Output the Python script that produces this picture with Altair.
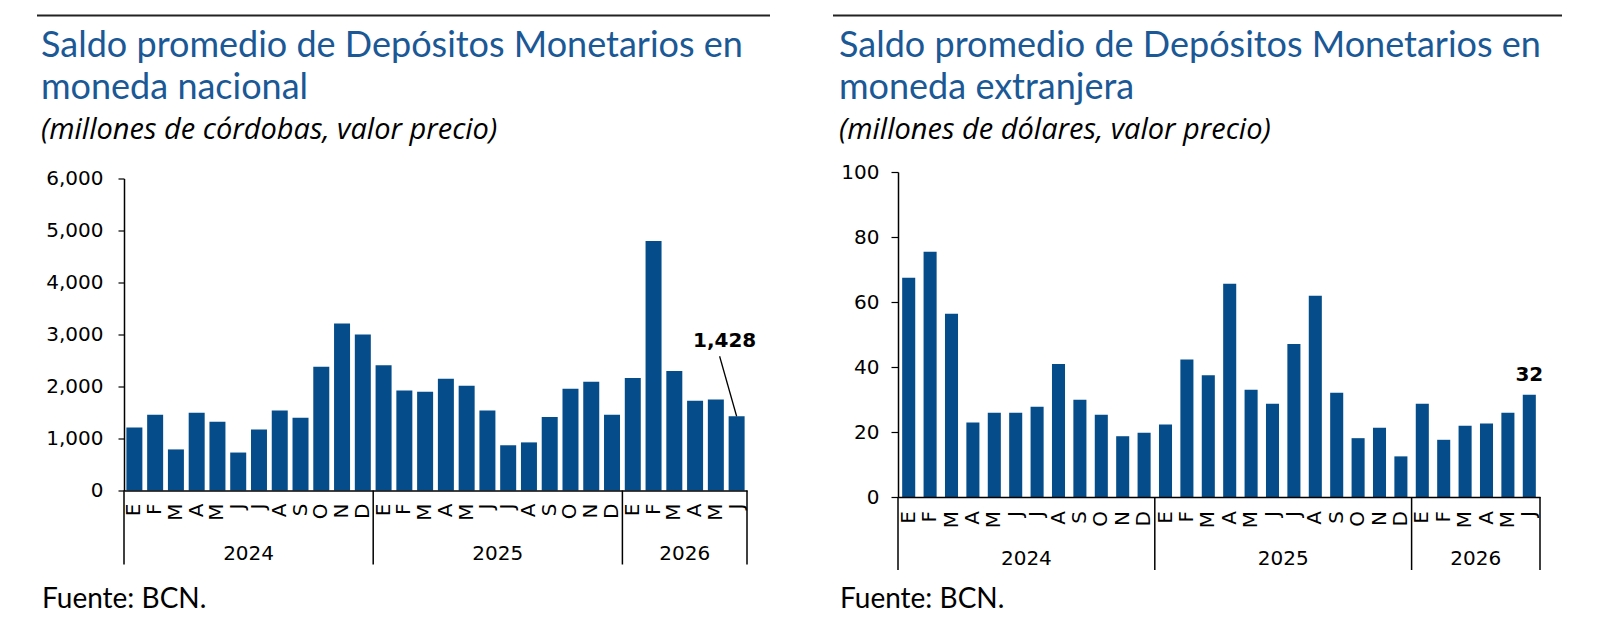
import altair as alt
import pandas as pd

# ---------------- data ----------------
years = ["2024"] * 12 + ["2025"] * 12 + ["2026"] * 6
meses = ["E", "F", "M", "A", "M", "J", "J", "A", "S", "O", "N", "D"] * 2 + ["E", "F", "M", "A", "M", "J"]
num_mes = list(range(1, 13)) * 2 + list(range(1, 7))

nacional = [1210, 1455, 790, 1495, 1320, 730, 1175, 1540, 1400, 2380, 3210, 3000,
            2410, 1925, 1900, 2150, 2015, 1540, 870, 925, 1415, 1955, 2090, 1455,
            2165, 4800, 2300, 1725, 1750, 1428]
extranjera = [67.5, 75.5, 56.4, 22.9, 25.9, 25.9, 27.8, 40.9, 29.9, 25.3, 18.7, 19.8,
              22.3, 42.3, 37.5, 65.6, 33.0, 28.7, 47.1, 61.9, 32.1, 18.1, 21.3, 12.5,
              28.7, 17.6, 21.9, 22.6, 25.9, 31.5]

year_labels = ["2024", "2025", "2026"]
year_counts = [12, 12, 6]

title_nac = ["Saldo promedio de Depósitos Monetarios en", "moneda nacional"]
sub_nac = "(millones de córdobas, valor precio)"
title_ext = ["Saldo promedio de Depósitos Monetarios en", "moneda extranjera"]
sub_ext = "(millones de dólares, valor precio)"
fuente = "Fuente: BCN."
label_nac = "1,428"
label_ext = "32"

y_ticks_nac = [0, 1000, 2000, 3000, 4000, 5000, 6000]
y_ticks_ext = [0, 20, 40, 60, 80, 100]

BAR = "#044C8A"
TITLE = "#1B5896"
TFONT = "Lato"
SFONT = "Open Sans"
AFONT = "DejaVu Sans"

keys = [f"{y}-{m:02d}-{l}" for y, m, l in zip(years, num_mes, meses)]


def panel(values, ann_text, y_ticks, y_max, fmt, width, height, origin_x, origin_y,
          bar_frac, label_padding, tick_size, titles, sub, rule_x0, rule_x1,
          text_x, year_base, sep_len, ann_dx, ann_dy, leader, month_pad):
    df = pd.DataFrame({"key": keys, "v": values, "mes": meses})
    xscale = alt.Scale(type="band", paddingInner=0, paddingOuter=0)
    month_axis = alt.Axis(labels=False, ticks=False, tickSize=0,
                          domainColor="black", domainWidth=1.5, title=None, zindex=1)
    xenc = alt.X("key:O", scale=xscale, sort=keys, axis=month_axis)
    yenc = alt.Y("v:Q", scale=alt.Scale(domain=[0, y_max], nice=False),
                 axis=alt.Axis(values=y_ticks, format=fmt, grid=False,
                               domainColor="black", domainWidth=1.5,
                               tickColor="black", tickSize=tick_size, tickWidth=1.2,
                               labelFont=AFONT, labelFontSize=20, labelColor="black",
                               labelPadding=label_padding, title=None, zindex=1))

    bars = alt.Chart(df).mark_bar(color=BAR, width={"band": bar_frac}).encode(x=xenc, y=yenc)

    # month initials, rotated, under each bar
    mlabels = alt.Chart(df).mark_text(font=AFONT, fontSize=20, color="black", angle=270,
                                      align="right", baseline="middle").encode(
        x=alt.X("key:O", axis=month_axis), y=alt.value(height + month_pad), text="mes:N")

    # year separators and labels
    starts, centers = [], []
    pos = 0
    for c in year_counts:
        starts.append(keys[pos])
        centers.append(keys[pos + c // 2])
        pos += c
    sep_df = pd.DataFrame({"key": starts})
    end_df = pd.DataFrame({"key": [keys[-1]]})
    yr_df = pd.DataFrame({"key": centers, "yr": year_labels})

    seps = alt.Chart(sep_df).mark_rule(color="black", strokeWidth=1.5).encode(
        x=alt.X("key:O", bandPosition=0, axis=month_axis),
        y=alt.value(height), y2=alt.value(height + sep_len))
    end_sep = alt.Chart(end_df).mark_rule(color="black", strokeWidth=1.5).encode(
        x=alt.X("key:O", bandPosition=1, axis=month_axis),
        y=alt.value(height), y2=alt.value(height + sep_len))
    yrs = alt.Chart(yr_df).mark_text(font=AFONT, fontSize=20, color="black",
                                     baseline="alphabetic", align="center").encode(
        x=alt.X("key:O", bandPosition=0, axis=month_axis), y=alt.value(year_base), text="yr:N")

    # annotation of last value
    last_df = pd.DataFrame({"key": [keys[-1]], "v": [values[-1]], "t": [ann_text]})
    ann = alt.Chart(last_df).mark_text(font=AFONT, fontSize=20, fontWeight="bold",
                                       color="black", baseline="alphabetic", align="center",
                                       dx=ann_dx, dy=ann_dy).encode(
        x=alt.X("key:O", axis=month_axis), y="v:Q", text="t:N")
    layers = [bars, mlabels, seps, end_sep, yrs, ann]
    if leader:
        lead = alt.Chart(last_df).mark_rule(color="black", strokeWidth=1.3,
                                            x2Offset=leader[0], y2Offset=leader[1]).encode(
            x=alt.X("key:O", axis=month_axis), x2=alt.X2("key"), y="v:Q", y2=alt.Y2("v"))
        layers.append(lead)

    # decorations: top rule, titles, subtitle, source
    top_rule = alt.Chart(pd.DataFrame({"a": [0]})).mark_rule(color="#222", strokeWidth=2).encode(
        x=alt.value(rule_x0 - origin_x), x2=alt.value(rule_x1 - origin_x),
        y=alt.value(15.5 - origin_y))
    layers.append(top_rule)
    for line, base in zip(titles, [57, 99]):
        layers.append(alt.Chart(pd.DataFrame({"t": [line]})).mark_text(
            font=TFONT, fontSize=36, color=TITLE, align="left", baseline="alphabetic").encode(
            x=alt.value(text_x - origin_x), y=alt.value(base - origin_y), text="t:N"))
    layers.append(alt.Chart(pd.DataFrame({"t": [sub]})).mark_text(
        font=SFONT, fontSize=29, fontStyle="italic", color="black", align="left",
        baseline="alphabetic").encode(
        x=alt.value(text_x - origin_x), y=alt.value(139 - origin_y), text="t:N"))
    layers.append(alt.Chart(pd.DataFrame({"t": [fuente]})).mark_text(
        font=TFONT, fontSize=28, color="black", align="left", baseline="alphabetic").encode(
        x=alt.value(text_x + 1 - origin_x), y=alt.value(608 - origin_y), text="t:N"))

    return alt.layer(*layers).properties(width=width, height=height)


left = panel(nacional, label_nac, y_ticks_nac, 6000, ",.0f", 623, 312, 123, 178.5,
             0.77, 15, 6, title_nac, sub_nac, 36, 769, 40, 381.5, 74, -12, -69, (-17, -60), 13)
right = panel(extranjera, label_ext, y_ticks_ext, 100, "d", 642, 325, 897, 172,
              0.61, 12, 7, title_ext, sub_ext, 832, 1561, 838, 393, 73, 0, -14, None, 14)

chart = alt.hconcat(left, right, spacing=151, bounds="flush", center=True).properties(
    padding={"left": 28, "top": 6, "right": 5, "bottom": 5}
).configure_view(stroke=None)

chart.save("out.html", embed_options={"renderer": "svg", "actions": False})
